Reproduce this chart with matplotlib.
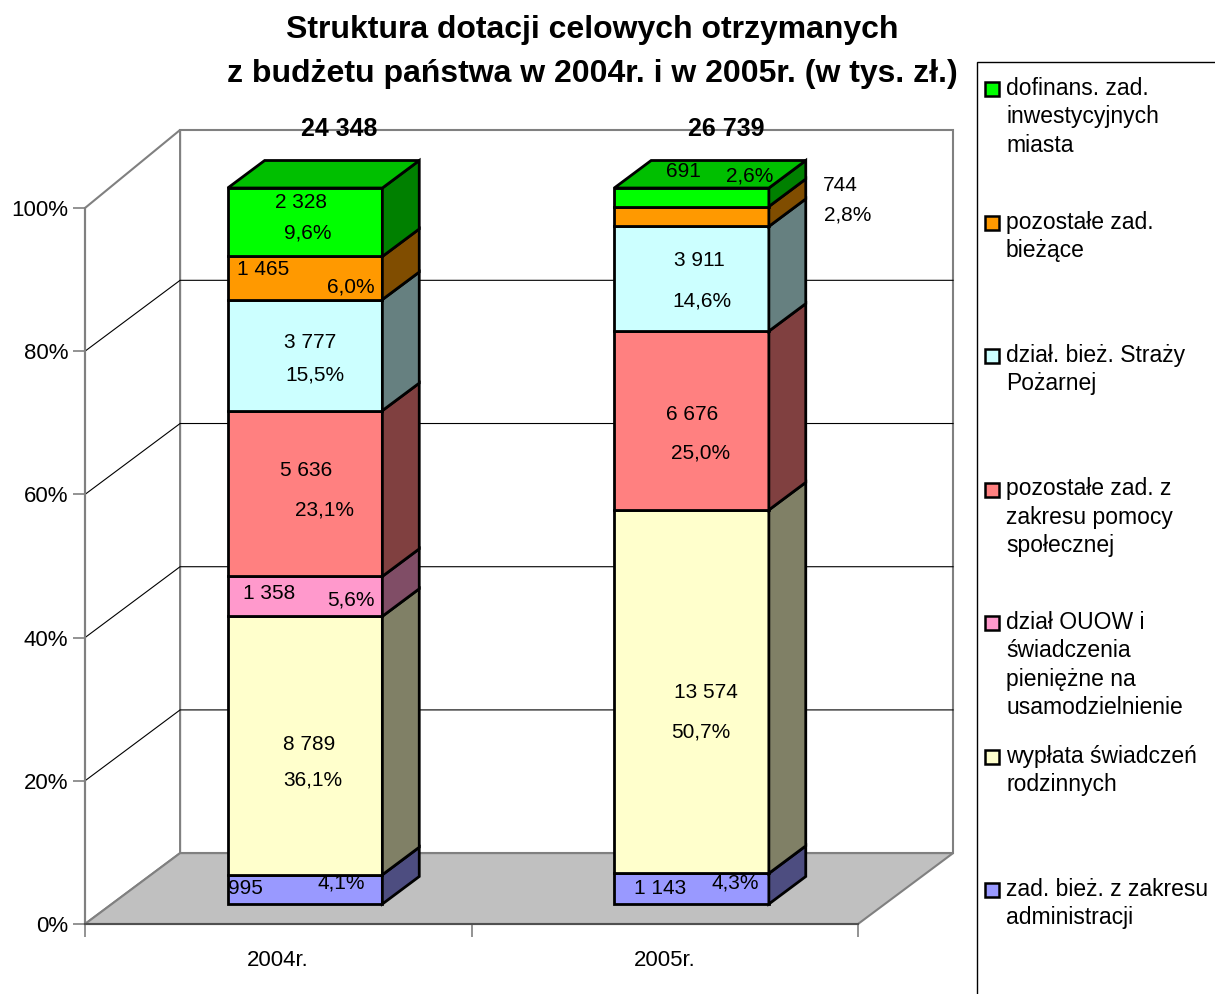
import matplotlib.pyplot as plt
from matplotlib.patches import Polygon, Rectangle

plt.rcParams['font.family'] = ['Liberation Sans', 'DejaVu Sans']

# ---- data (bottom -> top of the stack) ----
years = ["2004r.", "2005r."]
series = [
    "zad. bież. z zakresu\nadministracji",
    "wypłata świadczeń\nrodzinnych",
    "dział OUOW i\nświadczenia\npieniężne na\nusamodzielnienie",
    "pozostałe zad. z\nzakresu pomocy\nspołecznej",
    "dział. bież. Straży\nPożarnej",
    "pozostałe zad.\nbieżące",
    "dofinans. zad.\ninwestycyjnych\nmiasta",
]
vals_2004 = [995, 8789, 1358, 5636, 3777, 1465, 2328]
vals_2005 = [1143, 13574, 0, 6676, 3911, 744, 691]
pct_2004 = [4.1, 36.1, 5.6, 23.1, 15.5, 6.0, 9.6]
pct_2005 = [4.3, 50.7, 0.0, 25.0, 14.6, 2.8, 2.6]
colors = ["#9999FF", "#FFFFCC", "#FF99CC", "#FF8080", "#CCFFFF", "#FF9900", "#00FF00"]
y_ticks = [0, 20, 40, 60, 80, 100]

# label nudges in pixels (dx, dy up) relative to segment centre
val_nudge = [
    [(-60, 1), (4, 1), (-36, 3), (1, 23), (5, 13), (-42, 9), (-4, 20)],
    [(-31, 0), (14, -1), (0, 0), (1, 6), (8, 18), (149, 31), (-8, 26)],
]
pct_nudge = [
    [(36, 6), (8, -34), (46, -4), (19, -17), (10, -20), (46, -9), (3, -11)],
    [(44, 6), (9, -40), (0, 0), (9, -32), (10, -22), (156, 1), (58, 21)],
]


def darker(c, k):
    r, g, b = [int(c[i:i + 2], 16) / 255 for i in (1, 3, 5)]
    return (r * k, g * k, b * k)


def fmt_val(v):
    return f"{v:,}".replace(",", " ")


def fmt_pct(p):
    return f"{p:.1f}%".replace(".", ",")


fig = plt.figure(figsize=(12.15, 9.94), dpi=100)
ax = fig.add_axes([85 / 1215, 70 / 994, 773 / 1215, 716 / 994])
ax.set_xlim(0, 2)
ax.set_ylim(0, 100)
ax.patch.set_visible(False)

# depth vector (full wall depth) and bar depth fractions
ddx, ddy = 0.246, 9.9
f0, f1 = 0.282, 0.67
half_w = 0.2
wall = "#808080"
wtop = 101 + ddy

# walls and floor
ax.add_patch(Polygon([(ddx, ddy), (2 + ddx, ddy), (2 + ddx, wtop), (ddx, wtop)],
                     closed=True, fc="white", ec=wall, lw=1.5, zorder=0, clip_on=False))
ax.add_patch(Polygon([(0, 0), (ddx, ddy), (ddx, wtop), (0, 100)],
                     closed=True, fc="white", ec=wall, lw=1.5, zorder=0, clip_on=False))
ax.add_patch(Polygon([(0, 0), (2, 0), (2 + ddx, ddy), (ddx, ddy)],
                     closed=True, fc="#C0C0C0", ec=wall, lw=1.5, zorder=1, clip_on=False))
for t in y_ticks[1:-1]:
    ax.plot([0, ddx, 2 + ddx], [t, t + ddy, t + ddy], color="black", lw=0.8,
            zorder=1, clip_on=False)

# stacked 3d bars
for ci, (vals, pcts) in enumerate([(vals_2004, pct_2004), (vals_2005, pct_2005)]):
    total = sum(vals)
    xc = ci + 0.5
    xl, xr = xc - half_w, xc + half_w
    bottom = 0.0
    n = len(vals)
    for si, v in enumerate(vals):
        h = v / total * 100
        top = bottom + h
        if h > 0:
            col = colors[si]
            front = [(xl + f0 * ddx, bottom + f0 * ddy), (xr + f0 * ddx, bottom + f0 * ddy),
                     (xr + f0 * ddx, top + f0 * ddy), (xl + f0 * ddx, top + f0 * ddy)]
            side = [(xr + f0 * ddx, bottom + f0 * ddy), (xr + f1 * ddx, bottom + f1 * ddy),
                    (xr + f1 * ddx, top + f1 * ddy), (xr + f0 * ddx, top + f0 * ddy)]
            ax.add_patch(Polygon(front, closed=True, fc=col, ec="black", lw=2,
                                 zorder=3, clip_on=False, joinstyle="miter"))
            ax.add_patch(Polygon(side, closed=True, fc=darker(col, 0.5), ec="black", lw=2,
                                 zorder=3, clip_on=False, joinstyle="miter"))
            if si == n - 1:
                topf = [(xl + f0 * ddx, top + f0 * ddy), (xr + f0 * ddx, top + f0 * ddy),
                        (xr + f1 * ddx, top + f1 * ddy), (xl + f1 * ddx, top + f1 * ddy)]
                ax.add_patch(Polygon(topf, closed=True, fc=darker(col, 0.75), ec="black",
                                     lw=2, zorder=3, clip_on=False, joinstyle="miter"))
            cx, cy = xc + f0 * ddx, (bottom + top) / 2 + f0 * ddy
            ax.annotate(fmt_val(v), (cx, cy), xytext=val_nudge[ci][si],
                        textcoords="offset pixels", ha="center", va="center",
                        fontsize=15, zorder=5, annotation_clip=False)
            ax.annotate(fmt_pct(pcts[si]), (cx, cy), xytext=pct_nudge[ci][si],
                        textcoords="offset pixels", ha="center", va="center",
                        fontsize=15, zorder=5, annotation_clip=False)
        bottom = top
    mid = (f0 + f1) / 2
    ax.annotate(fmt_val(total), (xc + mid * ddx, 100 + mid * ddy), xytext=(16, 45),
                textcoords="offset pixels", ha="center", va="center",
                fontsize=18, fontweight="bold", annotation_clip=False)

# axes styling
for s in ["top", "right"]:
    ax.spines[s].set_visible(False)
ax.spines["left"].set_color(wall)
ax.spines["left"].set_linewidth(1.5)
ax.spines["bottom"].set_color("#505050")
ax.spines["bottom"].set_linewidth(1.5)
ax.spines["left"].set_zorder(2)
ax.spines["bottom"].set_zorder(2)
ax.set_yticks(y_ticks)
ax.set_yticklabels([f"{t}%" for t in y_ticks])
ax.tick_params(axis="y", length=9, width=1.2, color=wall, labelsize=16, pad=3)
ax.set_xticks([0, 1, 2])
ax.set_xticklabels(["", "", ""])
ax.set_xticks([0.5, 1.5], minor=True)
ax.set_xticklabels(years, minor=True)
ax.tick_params(axis="x", which="major", length=9, width=1.2, color=wall)
ax.tick_params(axis="x", which="minor", length=0, labelsize=16, pad=19)

# title
fig.text(592 / 1215, 1 - 30 / 994, "Struktura dotacji celowych otrzymanych",
         ha="center", va="center", fontsize=23, fontweight="bold")
fig.text(592 / 1215, 1 - 74 / 994, "z budżetu państwa w 2004r. i w 2005r. (w tys. zł.)",
         ha="center", va="center", fontsize=23, fontweight="bold")

# legend (drawn in pixel space of the figure)
lg = fig.add_axes([0, 0, 1, 1])
lg.set_xlim(0, 1215)
lg.set_ylim(994, 0)
lg.axis("off")
lg.add_patch(Rectangle((977, 62), 300, 1000, fc="white", ec="black", lw=1))
for i, si in enumerate(range(len(series) - 1, -1, -1)):
    y0 = 89 + i * 133.5
    lg.add_patch(Rectangle((985, y0 - 7), 14, 14, fc=colors[si], ec="black", lw=1.8))
    lg.text(1006, y0 - 12, series[si], ha="left", va="top", fontsize=16.5, linespacing=1.3)

fig.savefig("out.png", dpi=100)
